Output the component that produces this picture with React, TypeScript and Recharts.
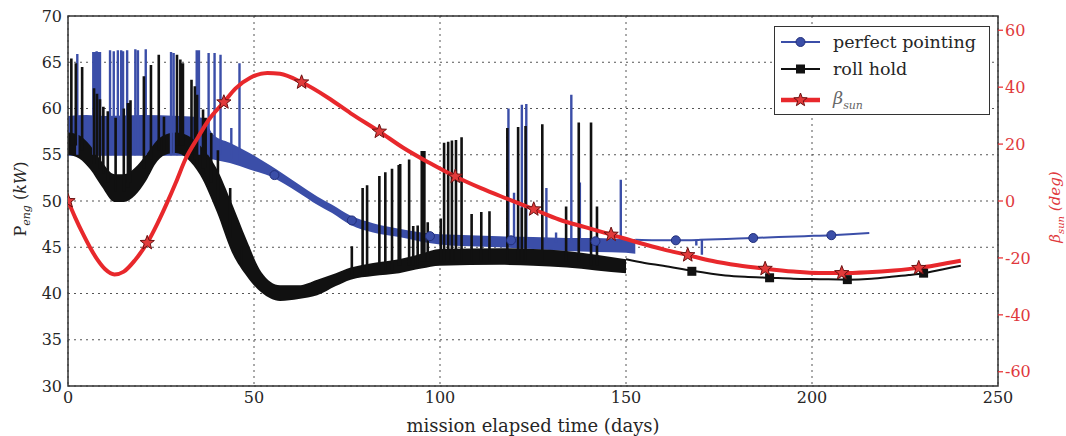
import React from "react";
import {
  Area,
  CartesianGrid,
  ComposedChart,
  Legend,
  Line,
  ReferenceArea,
  Scatter,
  XAxis,
  YAxis,
} from "recharts";

const DAY_TICKS = [0, 50, 100, 150, 200, 250];
const POWER_TICKS = [30, 35, 40, 45, 50, 55, 60, 65, 70];
const BETA_TICKS = [-60, -40, -20, 0, 20, 40, 60];

// [day, low, high] envelope of the fast oscillation (kW)
const BLUE_BAND: [number, number, number][] = [
  [0, 54.9, 59.2], [5, 54.9, 59.3], [10, 54.9, 59.2], [20, 54.9, 59.3],
  [30, 54.9, 59.2], [36, 54.8, 59.0], [39, 54.5, 57.2], [43.5, 54.1, 56.3],
  [48.8, 53.4, 55.2], [54.2, 52.7, 53.9], [58, 51.9, 52.9], [62, 50.9, 51.8],
  [67, 49.6, 50.5], [71, 48.7, 49.6], [76, 47.4, 48.4], [82, 46.6, 47.6],
  [89, 46.1, 47.0], [95, 45.6, 46.6], [100, 45.3, 46.4], [108, 45.1, 46.3],
  [116, 45.0, 46.2], [125, 44.8, 46.1], [134, 44.6, 46.0], [142, 44.5, 46.0],
  [150, 44.4, 45.9], [152.5, 44.3, 45.9],
];

const BLACK_BAND: [number, number, number][] = [
  [0, 55.0, 57.4], [3, 54.6, 57.1], [6, 53.4, 56.0], [9, 51.6, 54.3],
  [12.5, 49.9, 52.9], [15, 49.9, 52.9], [18, 50.6, 53.6], [21, 52.2, 55.0],
  [24, 54.3, 56.6], [27, 55.1, 57.3], [29, 55.2, 57.4], [32, 54.6, 57.1],
  [35.5, 52.8, 56.0], [40, 48.8, 53.5], [44, 44.5, 49.8], [48, 41.9, 45.8],
  [52, 40.1, 42.3], [57, 39.2, 40.9], [62, 39.4, 40.9], [67, 39.8, 41.5],
  [72, 40.8, 42.2], [76, 41.5, 42.8], [82, 41.9, 43.3], [89, 42.2, 43.7],
  [95, 42.7, 44.3], [100, 43.0, 44.8], [116, 43.1, 44.9], [125, 43.0, 44.8],
  [134, 42.8, 44.6], [142, 42.5, 44.2], [150, 42.2, 43.7],
];

// [day, from, to] transient spikes (kW)
const BLUE_SPIKES: [number, number, number][] = [
  [2.5, 55, 65.9], [6.8, 55, 66.1], [7.2, 55, 66.1], [7.7, 55, 66.2],
  [8.2, 55, 66.1], [8.6, 55, 66.1], [11.3, 55, 66.3], [12.3, 55, 66.2],
  [13.4, 55, 66.3], [14.3, 55, 66.3], [14.8, 55, 66.2], [15.9, 55, 66.3],
  [18.1, 55, 66.4], [18.8, 55, 66.3], [20.9, 55, 66.4], [27.7, 55, 66.1],
  [28.4, 55, 66.0], [34.6, 55, 66.3], [35.2, 55, 66.3], [37.8, 55, 66.0],
  [39.4, 55, 66.0], [41.0, 55, 65.8], [43.9, 54.5, 57.9], [46.1, 54, 64.9],
  [118.4, 45.5, 60.0], [119.9, 45.5, 50.9], [122.0, 45.5, 60.4],
  [123.2, 45.5, 60.5], [128.6, 45.5, 51.4], [131.2, 45.5, 46.6],
  [135.3, 45.5, 61.5], [137.6, 45.5, 52.0], [148.6, 45.5, 52.3],
  [168.9, 45.8, 45.2], [170.4, 45.8, 44.2],
];

const BLACK_SPIKES: [number, number, number][] = [
  [0.9, 56, 65.4], [2.1, 56, 64.9], [3.8, 55.5, 64.5], [7.0, 54, 62.2],
  [7.8, 54, 61.6], [8.6, 53.5, 61.0], [9.5, 53, 60.2], [10.7, 52, 59.7],
  [12.8, 51, 59.0], [15.0, 51, 60.0], [16.1, 51.5, 60.6], [16.8, 52, 60.9],
  [20.4, 53.5, 63.5], [22.3, 54.5, 64.7], [24.4, 55.5, 65.8], [25.8, 55.5, 59.1],
  [29.3, 56, 65.8], [30.2, 56, 65.3], [30.9, 56, 64.9], [33.2, 55, 63.1],
  [34.1, 54.5, 62.4], [34.7, 54, 61.5], [36.3, 53.5, 59.9], [37.0, 53, 59.0],
  [38.5, 52, 57.35], [40.3, 50, 55.5], [43.6, 46, 51.4], [46.6, 43, 45.1],
  [76.3, 42, 45.1], [79.2, 42, 51.4], [80.4, 42, 51.7], [83.7, 42.5, 52.7],
  [85.3, 42.5, 53.1], [87.1, 42.5, 53.5], [88.9, 43, 53.9], [89.3, 43, 54.0],
  [91.7, 43, 54.5], [92.8, 43, 47.3], [94.0, 43, 47.35], [95.1, 43.5, 55.4],
  [95.8, 43.5, 55.4], [96.7, 43.5, 47.7], [100.2, 43.5, 48.1], [101.1, 43.5, 56.3],
  [102.2, 43.5, 56.4], [103.2, 43.5, 56.55], [104.3, 43.5, 56.6], [105.8, 43.5, 56.9],
  [108.5, 43.5, 48.6], [111.1, 43.5, 48.8], [113.3, 43.5, 48.9], [118.1, 43.5, 57.9],
  [121.0, 43.5, 58.0], [122.0, 43.5, 49.3], [123.0, 43.5, 58.1], [127.5, 43.5, 58.3],
  [133.9, 43.5, 49.4], [137.3, 43.5, 58.5], [140.6, 43, 58.5], [142.2, 43, 49.4],
];

// [day, kW] smooth parts after the noisy segment
const BLUE_TAIL: [number, number][] = [
  [152.5, 45.8], [158, 45.75], [163.4, 45.75], [170, 45.8], [177, 45.9],
  [184.2, 46.0], [191, 46.1], [198, 46.2], [205.2, 46.3], [210, 46.4], [215.4, 46.55],
];
const BLACK_TAIL: [number, number][] = [
  [150, 43.7], [155, 43.3], [160, 43.0], [167.7, 42.45], [176.7, 41.95],
  [182, 41.8], [188.6, 41.7], [195, 41.6], [202, 41.55], [209.5, 41.5],
  [216, 41.6], [221.3, 41.8], [226, 42.0], [230, 42.2], [235, 42.6], [240, 43.0],
];
const BLUE_MARKS: [number, number][] = [
  [55.5, 52.8], [76.3, 47.9], [97.3, 46.2], [119.1, 45.75], [141.8, 45.65],
  [163.4, 45.75], [184.2, 46.0], [205.2, 46.3],
];
const BLACK_MARKS: [number, number][] = [
  [167.7, 42.4], [188.6, 41.7], [209.5, 41.5], [230, 42.2],
];

// [day, deg] sun beta angle
const BETA: [number, number][] = [
  [0, 0], [2, -6], [4, -11.5], [6, -16.5], [8, -20.8], [10, -24], [12.5, -25.8],
  [15, -24.8], [18, -20.8], [21.3, -14.7], [24, -8], [26.5, -1], [29, 6.5],
  [31.5, 14.5], [35, 22.5], [38, 28.8], [41.9, 34.7], [45, 39.5], [49, 43.3],
  [53.6, 45], [57, 44.7], [62.8, 41.7], [70, 36.2], [76, 30.8], [83.7, 24.4],
  [90, 18.8], [97, 13.5], [104.1, 8.6], [111, 4.5], [118, 0.8], [125.2, -2.9],
  [132, -6.5], [139, -9.2], [146, -11.8], [153, -14.5], [160, -17], [166.6, -19],
  [173, -21], [180, -22.6], [187.4, -23.8], [195, -24.8], [202, -25.3], [208, -25.3],
  [215, -25], [222, -24.4], [228.7, -23.5], [234, -22.4], [240, -21],
];
const BETA_MARKS: [number, number][] = [
  [0, 0], [21.3, -14.7], [41.9, 34.7], [62.8, 41.7], [83.7, 24.4], [104.1, 8.6],
  [125.2, -2.9], [146, -11.8], [166.6, -19], [187.4, -23.8], [208, -25.3], [228.7, -23.5],
];

const FONT = '"DejaVu Serif", serif';
const BLUE = "#3b4ea8";
const BLACK = "#111111";
const RED = "#e8282c";
const RED_TEXT = "#e0383c";
const TEXT = "#262626";
const FRAME = "#333333";

const band = (rows: [number, number, number][]) =>
  rows.map(([x, lo, hi]) => ({ x, range: [lo, hi] }));
const spikes = (rows: [number, number, number][]) =>
  rows.flatMap(([x, lo, hi]) => [
    { x, y: lo },
    { x, y: hi },
    { x, y: null },
  ]);
const points = (rows: [number, number][]) => rows.map(([x, y]) => ({ x, y }));

function Star({ cx, cy, r = 7.5 }: { cx: number; cy: number; r?: number }) {
  const pts: string[] = [];
  for (let i = 0; i < 10; i++) {
    const rad = i % 2 === 0 ? r : r * 0.42;
    const a = -Math.PI / 2 + (i * Math.PI) / 5;
    pts.push(`${cx + rad * Math.cos(a)},${cy + rad * Math.sin(a)}`);
  }
  return <polygon points={pts.join(" ")} fill="#e23b3b" stroke="#6b1212" strokeWidth={1} />;
}

const Circle = ({ cx, cy }: { cx: number; cy: number }) => (
  <circle cx={cx} cy={cy} r={4.5} fill={BLUE} stroke="#23307a" strokeWidth={1} />
);

const Square = ({ cx, cy }: { cx: number; cy: number }) => (
  <rect x={cx - 4.5} y={cy - 4.5} width={9} height={9} fill={BLACK} />
);

const PowerLabel = () => (
  <text
    x={26}
    y={199}
    transform="rotate(-90 26 199)"
    textAnchor="middle"
    fontFamily={FONT}
    fontSize={16}
    fill={TEXT}
  >
    P
    <tspan fontStyle="italic" fontSize={11} dy={4}>
      eng
    </tspan>
    <tspan dy={-4}> (</tspan>
    <tspan fontStyle="italic">kW</tspan>)
  </text>
);

const BetaLabel = () => (
  <text
    x={1060}
    y={207}
    transform="rotate(-90 1060 207)"
    textAnchor="middle"
    fontFamily={FONT}
    fontStyle="italic"
    fontSize={15}
    fill={RED_TEXT}
  >
    β
    <tspan fontSize={10} dy={4}>
      sun
    </tspan>
    <tspan dy={-4}> (deg)</tspan>
  </text>
);

const LEGEND_ROWS = [
  { key: "perfect", top: 15 },
  { key: "roll", top: 42 },
  { key: "beta", top: 73 },
];

function LegendBox() {
  return (
    <div
      style={{
        position: "relative",
        boxSizing: "border-box",
        width: 216,
        height: 89,
        border: `1.5px solid ${FRAME}`,
        background: "#fff",
        fontFamily: FONT,
        fontSize: 17.5,
        color: TEXT,
      }}
    >
      {LEGEND_ROWS.map((row) => (
        <div
          key={row.key}
          style={{
            position: "absolute",
            left: 4,
            top: row.top - 12,
            height: 24,
            display: "flex",
            alignItems: "center",
            whiteSpace: "nowrap",
          }}
        >
          <svg width={46} height={24}>
            {row.key === "perfect" && (
              <>
                <line x1={2} x2={41} y1={12} y2={12} stroke={BLUE} strokeWidth={2} />
                <Circle cx={21.5} cy={12} />
              </>
            )}
            {row.key === "roll" && (
              <>
                <line x1={2} x2={41} y1={12} y2={12} stroke={BLACK} strokeWidth={2} />
                <Square cx={21.5} cy={12} />
              </>
            )}
            {row.key === "beta" && (
              <>
                <line x1={2} x2={41} y1={12} y2={12} stroke={RED} strokeWidth={4.5} />
                <Star cx={21.5} cy={12} r={7} />
              </>
            )}
          </svg>
          <span style={{ marginLeft: 8 }}>
            {row.key === "perfect" && "perfect pointing"}
            {row.key === "roll" && "roll hold"}
            {row.key === "beta" && (
              <span style={{ fontStyle: "italic", color: "#666" }}>
                β<sub style={{ fontSize: 11 }}>sun</sub>
              </span>
            )}
          </span>
        </div>
      ))}
    </div>
  );
}

export default function App() {
  const tick = { fill: TEXT, fontSize: 16, fontFamily: FONT };
  return (
    <div style={{ position: "absolute", left: 0, top: 0, background: "#fff" }}>
      <ComposedChart
        width={1066}
        height={436}
        margin={{ top: 16, right: 0, bottom: 0, left: 0 }}
      >
        <CartesianGrid
          yAxisId="p"
          stroke="#555"
          strokeDasharray="2 4"
          strokeWidth={1}
        />
        <XAxis
          dataKey="x"
          type="number"
          domain={[0, 250]}
          ticks={DAY_TICKS}
          allowDataOverflow
          height={50}
          tickSize={0}
          tickMargin={6}
          axisLine={false}
          tick={tick}
          label={{
            value: "mission elapsed time (days)",
            position: "insideBottom",
            offset: 4,
            style: { fill: TEXT, fontSize: 18, fontFamily: FONT },
          }}
        />
        <YAxis
          yAxisId="p"
          type="number"
          domain={[30, 70]}
          ticks={POWER_TICKS}
          allowDataOverflow
          width={68}
          tickSize={0}
          tickMargin={6}
          axisLine={false}
          tick={tick}
          label={<PowerLabel />}
        />
        <YAxis
          yAxisId="b"
          orientation="right"
          type="number"
          domain={[-65, 65]}
          ticks={BETA_TICKS}
          allowDataOverflow
          width={68}
          tickSize={5}
          tickMargin={2}
          axisLine={false}
          tickLine={{ stroke: RED, strokeWidth: 1.2 }}
          tick={{ ...tick, fill: RED_TEXT }}
          label={<BetaLabel />}
        />

        <Area
          yAxisId="p"
          data={band(BLUE_BAND)}
          dataKey="range"
          type="monotone"
          stroke="none"
          fill={BLUE}
          fillOpacity={1}
          isAnimationActive={false}
        />
        <Line
          yAxisId="p"
          data={spikes(BLUE_SPIKES)}
          dataKey="y"
          type="linear"
          stroke={BLUE}
          strokeWidth={2.4}
          dot={false}
          activeDot={false}
          isAnimationActive={false}
        />
        <Line
          yAxisId="p"
          data={points(BLUE_TAIL)}
          dataKey="y"
          type="monotone"
          stroke={BLUE}
          strokeWidth={2}
          dot={false}
          activeDot={false}
          isAnimationActive={false}
        />
        <Scatter
          yAxisId="p"
          data={points(BLUE_MARKS)}
          dataKey="y"
          shape={(p: any) => <Circle cx={p.cx} cy={p.cy} />}
          isAnimationActive={false}
        />

        <Area
          yAxisId="p"
          data={band(BLACK_BAND)}
          dataKey="range"
          type="monotone"
          stroke="none"
          fill={BLACK}
          fillOpacity={1}
          isAnimationActive={false}
        />
        <Line
          yAxisId="p"
          data={spikes(BLACK_SPIKES)}
          dataKey="y"
          type="linear"
          stroke={BLACK}
          strokeWidth={2.6}
          dot={false}
          activeDot={false}
          isAnimationActive={false}
        />
        <Line
          yAxisId="p"
          data={points(BLACK_TAIL)}
          dataKey="y"
          type="monotone"
          stroke={BLACK}
          strokeWidth={2}
          dot={false}
          activeDot={false}
          isAnimationActive={false}
        />
        <Scatter
          yAxisId="p"
          data={points(BLACK_MARKS)}
          dataKey="y"
          shape={(p: any) => <Square cx={p.cx} cy={p.cy} />}
          isAnimationActive={false}
        />

        <Line
          yAxisId="b"
          data={points(BETA)}
          dataKey="y"
          type="monotone"
          stroke={RED}
          strokeWidth={4}
          dot={false}
          activeDot={false}
          isAnimationActive={false}
        />
        <Scatter
          yAxisId="b"
          data={points(BETA_MARKS)}
          dataKey="y"
          shape={(p: any) => <Star cx={p.cx} cy={p.cy} />}
          isAnimationActive={false}
        />

        <ReferenceArea
          yAxisId="p"
          x1={0}
          x2={250}
          y1={30}
          y2={70}
          fill="none"
          stroke={FRAME}
          strokeWidth={1.5}
          ifOverflow="visible"
        />
        <Legend
          layout="vertical"
          align="center"
          verticalAlign="middle"
          wrapperStyle={{ left: 774, top: 26, width: 216, height: 89 }}
          content={() => <LegendBox />}
        />
      </ComposedChart>
    </div>
  );
}
